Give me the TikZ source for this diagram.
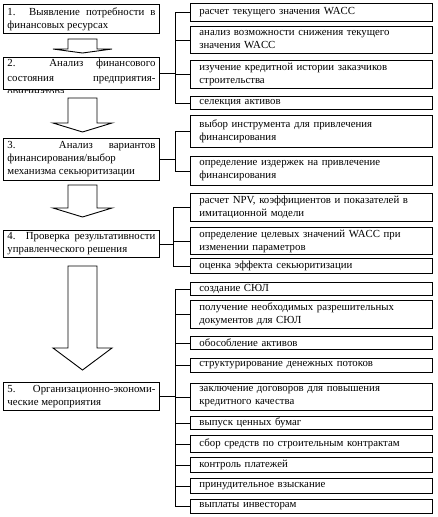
\documentclass[tikz,border=0pt]{standalone}
\usepackage{fontspec}
\setmainfont{Liberation Serif}
\usepackage{tikz}

\begin{document}
\begin{tikzpicture}[x=1pt, y=-1pt,
		lbox/.style={draw, anchor=north west, text width=148pt, inner xsep=4pt, inner ysep=1pt, align=justify},
		rbox/.style={draw, anchor=north west, text width=224pt, inner xsep=9pt, inner ysep=0pt, align=left},
		bigarrow/.style={draw, line width=0.9pt, line join=miter},
		font=\fontsize{10.8}{13}\selectfont, line width=0.9pt]
	\useasboundingbox (0,0) rectangle (437,517);
	% Etappen links
	\node[lbox, minimum height=29pt] (b1) at (3,4) {1. Выявление потребности в\linebreak финансовых ресурсах};
	\begin{scope}
		\clip (0,50) rectangle (170,92.5);
		\node[lbox, minimum height=32pt, inner ysep=0pt] (b2) at (3,57) {\parbox[c][31pt][t]{148pt}{\fontsize{10.8}{14.5}\selectfont\vspace{1.5pt}2. Анализ финансового\linebreak состояния предприятия-\linebreak оригинатора}};
	\end{scope}
	\node[lbox, minimum height=42pt] (b3) at (3,138) {3. Анализ вариантов\linebreak финансирования/выбор\linebreak механизма секьюритизации};
	\node[lbox, minimum height=27pt] (b4) at (3,230) {4. Проверка результативности\linebreak управленческого решения};
	\node[lbox, minimum height=28pt] (b5) at (3,382) {5. Организационно-экономи-\linebreak ческие мероприятия};
	% Blockpfeile
	\foreach \top/\wing/\tip in {39/49/53, 98/123/132, 185/208/217, 266/348/370}
		\draw[bigarrow] (68,\top) -- (97,\top) -- (97,\wing) -- (112,\wing) -- (82.5,\tip) -- (53,\wing) -- (68,\wing) -- cycle;
	% Massnahmen rechts
	\foreach \n/\t/\h/\txt in {
		r1/3/18/{расчет текущего значения WACC},
		r2/26/27/{анализ возможности снижения текущего\\значения WACC},
		r3/60/28/{изучение кредитной истории заказчиков\\строительства},
		r4/96/13/{селекция активов},
		r5/115/32/{выбор инструмента для привлечения\\финансирования},
		r6/156/29/{определение издержек на привлечение\\финансирования},
		r7/193/28/{расчет NPV, коэффициентов и показателей в\\имитационной модели},
		r8/227/27/{определение целевых значений WACC при\\изменении параметров},
		r9/258/15/{оценка эффекта секьюритизации},
		r10/282/13/{создание СЮЛ},
		r11/300/28/{получение необходимых разрешительных\\документов для СЮЛ},
		r12/336/13/{обособление активов},
		r13/358/14/{структурирование денежных потоков},
		r14/383/27/{заключение договоров для повышения\\кредитного качества},
		r15/416/13/{выпуск ценных бумаг},
		r16/435/17/{сбор средств по строительным контрактам},
		r17/457/15/{контроль платежей},
		r18/478/15/{принудительное взыскание},
		r19/499/14/{выплаты инвесторам}}
		\node[rbox, minimum height=\h pt] (\n) at (190,\t) {\txt};
	% Verbindungen
	\coordinate (bus2) at (175,0);
	\coordinate (bus3) at (175,0);
	\coordinate (bus4) at (173,0);
	\coordinate (bus5) at (175,0);
	\draw (b2.east) -- (b2.east -| bus2);
	\draw (r1.west -| bus2) -- (r4.west -| bus2);
	\foreach \r in {r1,r2,r3,r4} \draw (\r.west) -- (\r.west -| bus2);
	\draw (b3.east) -- (b3.east -| bus3);
	\draw (r5.west -| bus3) -- (r6.west -| bus3);
	\foreach \r in {r5,r6} \draw (\r.west) -- (\r.west -| bus3);
	\draw (b4.east) -- (b4.east -| bus4);
	\draw (r7.west -| bus4) -- (r9.west -| bus4);
	\foreach \r in {r7,r8,r9} \draw (\r.west) -- (\r.west -| bus4);
	\draw (b5.east) -- (b5.east -| bus5);
	\draw (r10.west -| bus5) -- (r19.west -| bus5);
	\foreach \r in {r10,r11,r12,r13,r14,r15,r16,r17,r18,r19} \draw (\r.west) -- (\r.west -| bus5);
\end{tikzpicture}
\end{document}
